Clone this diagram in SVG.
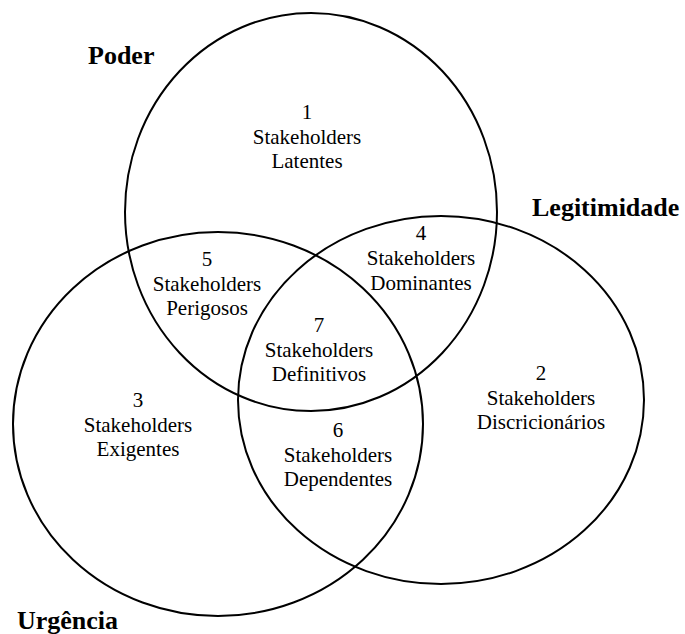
<svg xmlns="http://www.w3.org/2000/svg" width="685" height="634" viewBox="0 0 685 634">
<style>
.c{fill:none;stroke:#000;stroke-width:2}
.t{font-size:21px;fill:#000;text-anchor:middle}
.b{font-size:26px;font-weight:bold;fill:#000}
</style>
<rect width="685" height="634" fill="#fff"/>
<g id="circles">
<ellipse id="poder" class="c" cx="311" cy="212" rx="186" ry="199"/>
<ellipse id="urgencia" class="c" cx="218" cy="424" rx="205" ry="192"/>
<ellipse id="legitimidade" class="c" cx="441" cy="400" rx="203" ry="184"/>
</g>
<g font-family="Liberation Serif, Times New Roman, serif">
<g id="labels">
<text class="b" x="88" y="64">Poder</text>
<text class="b" x="532" y="216">Legitimidade</text>
<text class="b" x="17" y="629">Urgência</text>
</g>
<g id="r1"><text class="t" x="307" y="119">1</text><text class="t" x="307" y="144">Stakeholders</text><text class="t" x="307" y="168">Latentes</text></g>
<g id="r2"><text class="t" x="541" y="380">2</text><text class="t" x="541" y="405">Stakeholders</text><text class="t" x="541" y="429">Discricionários</text></g>
<g id="r3"><text class="t" x="138" y="407">3</text><text class="t" x="138" y="432">Stakeholders</text><text class="t" x="138" y="456">Exigentes</text></g>
<g id="r4"><text class="t" x="421" y="240">4</text><text class="t" x="421" y="265">Stakeholders</text><text class="t" x="421" y="290">Dominantes</text></g>
<g id="r5"><text class="t" x="207" y="266">5</text><text class="t" x="207" y="291">Stakeholders</text><text class="t" x="207" y="315">Perigosos</text></g>
<g id="r6"><text class="t" x="338" y="437">6</text><text class="t" x="338" y="462">Stakeholders</text><text class="t" x="338" y="486">Dependentes</text></g>
<g id="r7"><text class="t" x="319" y="332">7</text><text class="t" x="319" y="357">Stakeholders</text><text class="t" x="319" y="381">Definitivos</text></g>
</g>
</svg>
